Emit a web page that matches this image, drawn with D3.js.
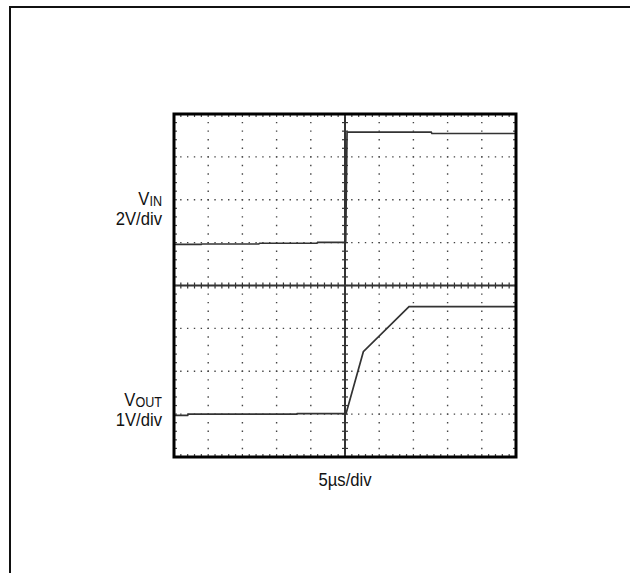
<!DOCTYPE html>
<html>
<head>
<meta charset="utf-8">
<script src="https://cdn.jsdelivr.net/npm/d3@7"></script>
<style>
  html, body { margin: 0; padding: 0; background: #fff; }
  svg { display: block; }
  text { font-family: "Liberation Sans Narrow", "Arial Narrow", "Liberation Sans", Arial, sans-serif; fill: #111; }
</style>
</head>
<body>
<svg id="chart" width="630" height="573"></svg>
<script>
// ---- data (time in µs, voltages in V) ----
const vinTime  = [0, 4, 4.1, 12.4, 12.5, 20.9, 21, 25.1, 25.3, 37.6, 37.7, 50];
const vinVolts = [-0.08, -0.08, -0.065, -0.065, -0.03, -0.03, 0.015, 0.015, 5.15, 5.15, 5.09, 5.09];
const voutTime  = [0, 2, 2.1, 17.9, 18, 25.15, 27.68, 34.36, 50];
const voutVolts = [-0.03, -0.03, 0, 0, 0.01, 0.01, 1.455, 2.505, 2.505];

const timeDomain = [0, 50];      // 5 µs/div, 10 divisions
const divDomain = [0, 8];        // 8 vertical divisions
const xMajor = d3.range(0, 51, 5);
const xMinor = d3.range(0, 50.001, 1);
const yMajor = d3.range(0, 9, 1);
const yMinor = d3.range(0, 8.001, 0.2);

const vinGroundDiv = 5, vinVoltsPerDiv = 2;
const voutGroundDiv = 1, voutVoltsPerDiv = 1;

const labels = {
  vin: ["V", "IN", "2V/div"],
  vout: ["V", "OUT", "1V/div"],
  time: "5µs/div"
};

// ---- layout ----
const svg = d3.select("#chart");
const L = 174, R = 516, T = 114, B = 457;
const x = d3.scaleLinear().domain(timeDomain).range([L, R]);
const y = d3.scaleLinear().domain(divDomain).range([B, T]);

// outer frame (extends past right/bottom edge)
svg.append("rect").attr("x", 10).attr("y", 7).attr("width", 700).attr("height", 700)
  .attr("fill", "none").attr("stroke", "#111").attr("stroke-width", 2);

const g = svg.append("g");

// dotted grid lines
const xStep = x(1) - x(0);
const yStep = y(0) - y(0.2);
g.selectAll("line.vgrid").data(xMajor.slice(1, -1).filter(d => d !== 25)).enter().append("line")
  .attr("x1", d => x(d)).attr("x2", d => x(d)).attr("y1", T).attr("y2", B)
  .attr("stroke", "#444").attr("stroke-width", 1.4)
  .attr("stroke-dasharray", `1.4 ${yStep - 1.4}`).attr("stroke-dashoffset", 0.7);
g.selectAll("line.hgrid").data(yMajor.slice(1, -1).filter(d => d !== 4)).enter().append("line")
  .attr("y1", d => y(d)).attr("y2", d => y(d)).attr("x1", L).attr("x2", R)
  .attr("stroke", "#444").attr("stroke-width", 1.4)
  .attr("stroke-dasharray", `1.4 ${xStep - 1.4}`).attr("stroke-dashoffset", 0.7);

// center axes with minor ticks
const cx = g.append("g").attr("transform", `translate(0,${y(4)})`);
cx.selectAll("line.tk").data(xMinor).enter().append("line")
  .attr("x1", d => x(d)).attr("x2", d => x(d)).attr("y1", -3).attr("y2", 3)
  .attr("stroke", "#333").attr("stroke-width", 1.2);
cx.append("line").attr("x1", L).attr("x2", R).attr("y1", 0).attr("y2", 0)
  .attr("stroke", "#333").attr("stroke-width", 2);

const cy = g.append("g").attr("transform", `translate(${x(25)},0)`);
cy.selectAll("line.tk").data(yMinor).enter().append("line")
  .attr("y1", d => y(d)).attr("y2", d => y(d)).attr("x1", -3).attr("x2", 3)
  .attr("stroke", "#333").attr("stroke-width", 1.2);
cy.append("line").attr("y1", T).attr("y2", B).attr("x1", 0).attr("x2", 0)
  .attr("stroke", "#333").attr("stroke-width", 2);

// inner border ticks
g.selectAll("line.bt").data(xMinor).enter().append("line")
  .attr("x1", d => x(d)).attr("x2", d => x(d)).attr("y1", B - 3).attr("y2", B)
  .attr("stroke", "#444").attr("stroke-width", 1.2);
g.selectAll("line.tt").data(xMinor).enter().append("line")
  .attr("x1", d => x(d)).attr("x2", d => x(d)).attr("y1", T).attr("y2", T + 3)
  .attr("stroke", "#444").attr("stroke-width", 1.2);
g.selectAll("line.lt").data(yMinor).enter().append("line")
  .attr("y1", d => y(d)).attr("y2", d => y(d)).attr("x1", L).attr("x2", L + 3)
  .attr("stroke", "#444").attr("stroke-width", 1.2);
g.selectAll("line.rt").data(yMinor).enter().append("line")
  .attr("y1", d => y(d)).attr("y2", d => y(d)).attr("x1", R - 3).attr("x2", R)
  .attr("stroke", "#444").attr("stroke-width", 1.2);

// traces
const line = d3.line().x(d => x(d[0])).y(d => y(d[1]));
const vinPts = vinTime.map((t, i) => [t, vinGroundDiv + vinVolts[i] / vinVoltsPerDiv]);
const voutPts = voutTime.map((t, i) => [t, voutGroundDiv + voutVolts[i] / voutVoltsPerDiv]);
g.append("path").attr("d", line(vinPts)).attr("fill", "none")
  .attr("stroke", "#333").attr("stroke-width", 1.7);
g.append("path").attr("d", line(voutPts)).attr("fill", "none")
  .attr("stroke", "#333").attr("stroke-width", 1.7);

// plot border
g.append("rect").attr("x", L).attr("y", T).attr("width", R - L).attr("height", B - T)
  .attr("fill", "none").attr("stroke", "#000").attr("stroke-width", 3);

// labels (condensed look via horizontal scaling)
const FS = 18.5, SX = 0.9;
function chLabel(lbl, yBase) {
  const t = svg.append("text").attr("transform", `translate(162,${yBase}) scale(${SX},1)`)
    .attr("text-anchor", "end").attr("font-size", FS);
  t.append("tspan").text(lbl[0]);
  t.append("tspan").attr("font-size", 14).attr("dy", 1).text(lbl[1]);
  svg.append("text").attr("transform", `translate(162,${yBase + 20}) scale(${SX},1)`)
    .attr("text-anchor", "end").attr("font-size", FS).text(lbl[2]);
}
chLabel(labels.vin, 205);
chLabel(labels.vout, 405.5);
svg.append("text").attr("transform", `translate(${x(25)},486) scale(${SX},1)`)
  .attr("text-anchor", "middle").attr("font-size", FS).text(labels.time);
</script>
</body>
</html>
